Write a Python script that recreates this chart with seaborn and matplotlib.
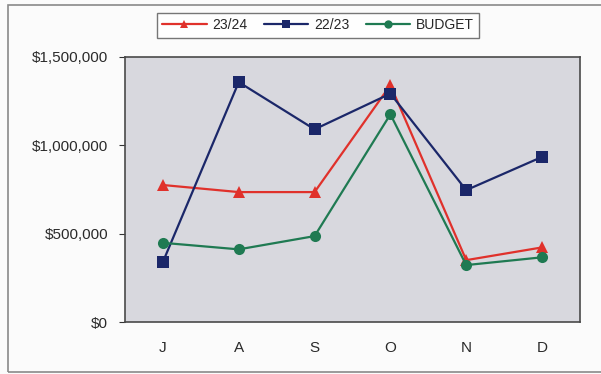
import matplotlib
matplotlib.use("Agg")
import matplotlib.pyplot as plt
from matplotlib.patches import Rectangle
from matplotlib.ticker import FuncFormatter
import pandas as pd
import seaborn as sns

months = ["J", "A", "S", "O", "N", "D"]
season_2324 = [775000, 735000, 735000, 1340000, 350000, 422000]
season_2223 = [340000, 1357000, 1090000, 1292000, 746000, 934000]
budget = [448000, 411000, 486000, 1175000, 322000, 366000]

series_names = ["23/24", "22/23", "BUDGET"]
colors = {"23/24": "#e0312b", "22/23": "#1b2769", "BUDGET": "#1f7a52"}
markers = {"23/24": "^", "22/23": "s", "BUDGET": "o"}

df = pd.DataFrame({
    "month": months * 3,
    "idx": list(range(len(months))) * 3,
    "value": season_2324 + season_2223 + budget,
    "series": ["23/24"] * 6 + ["22/23"] * 6 + ["BUDGET"] * 6,
})

sns.set_theme(style="white")
plt.rcParams["font.family"] = ["Liberation Sans", "DejaVu Sans"]

fig = plt.figure(figsize=(6.01, 3.74), dpi=100)
fig.patch.set_facecolor("#fbfbfb")
ax = fig.add_axes([0.208, 0.139, 0.757, 0.709])
ax.set_facecolor("#d8d8de")

sns.lineplot(data=df, x="idx", y="value", hue="series", style="series",
             hue_order=series_names, style_order=series_names,
             palette=colors, markers=markers, dashes=False,
             markersize=8, linewidth=1.6, markeredgewidth=0,
             ax=ax, legend=False)

ax.set_xlim(-0.5, len(months) - 0.5)
ax.set_ylim(0, 1500000)
ax.set_xticks(range(len(months)))
ax.set_xticklabels(months)
ax.set_yticks([0, 500000, 1000000, 1500000])
ax.yaxis.set_major_formatter(FuncFormatter(lambda v, p: f"${v:,.0f}"))
ax.set_xlabel("")
ax.set_ylabel("")
ax.tick_params(axis="y", length=4, width=0.8, color="#333333", direction="out",
               labelsize=11, labelcolor="#2a2a2a", pad=8, left=True)
ax.tick_params(axis="x", length=0, labelsize=11, labelcolor="#2a2a2a", pad=14)
for s in ax.spines.values():
    s.set_color("#4a4a4a")
    s.set_linewidth(1.2)

handles = [plt.Line2D([], [], color=colors[n], marker=markers[n], markersize=6,
                      markeredgewidth=0, linewidth=1.6, label=n)
           for n in series_names]
leg = fig.legend(handles=handles, loc="center", bbox_to_anchor=(0.529, 0.933),
                 ncol=3, frameon=True, fancybox=False, fontsize=10,
                 handlelength=3.2, columnspacing=1.2, handletextpad=0.4,
                 borderpad=0.4)
leg.get_frame().set_edgecolor("#555555")
leg.get_frame().set_linewidth(1.0)
leg.get_frame().set_facecolor("#ffffff")

# outer frame around the chart
fig.add_artist(Rectangle((0.014, 0.006), 1.2, 0.98, transform=fig.transFigure,
                         fill=False, edgecolor="#8a8a8a", linewidth=1.2))

fig.savefig("out.png", dpi=100)
